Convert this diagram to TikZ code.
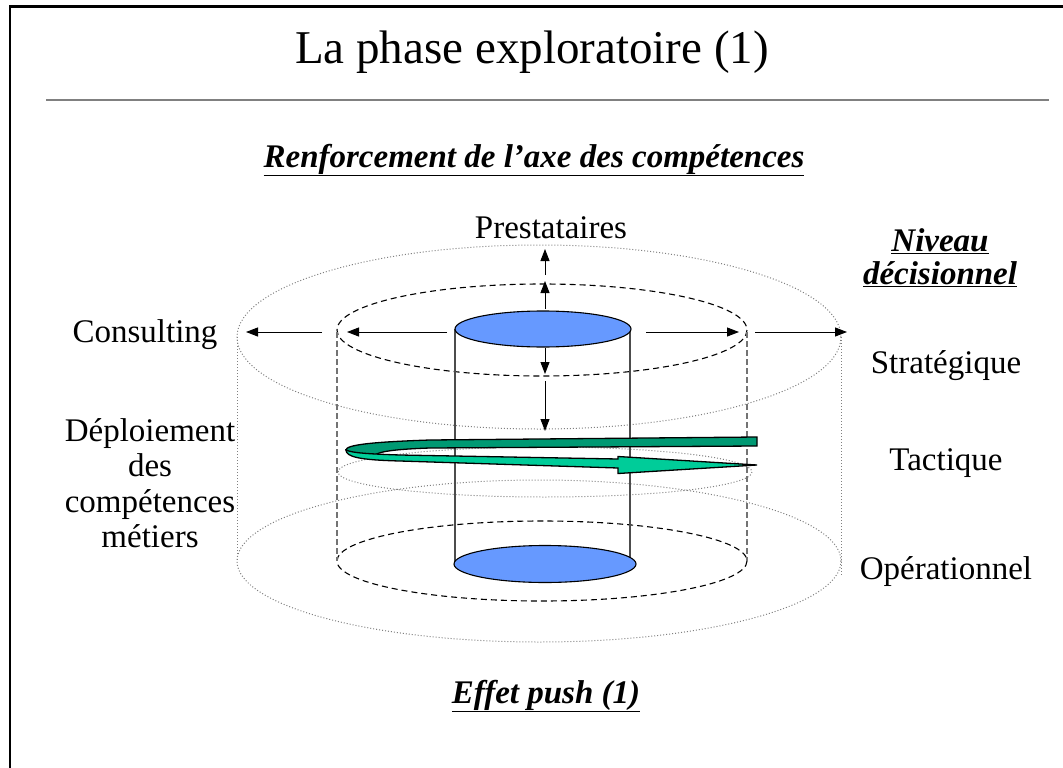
\documentclass[tikz,border=0pt]{standalone}
\usepackage{fontspec}
\setmainfont{Liberation Serif}
\usetikzlibrary{arrows.meta}
\definecolor{lightblue}{HTML}{6699FF}
\definecolor{darkgreen}{HTML}{009973}
\definecolor{lightgreen}{HTML}{00CC99}
\tikzset{
  body/.style={font=\fontsize{33}{37}\selectfont, align=center, inner sep=0pt},
  bodybi/.style={font=\fontsize{33}{37}\selectfont\bfseries\itshape, align=center, inner sep=0pt},
  dotline/.style={draw=gray, dotted, line width=1},
  dashline/.style={draw=black, dash pattern=on 6pt off 4pt, line width=1.1},
  dashgray/.style={draw=gray!90!black, dash pattern=on 6pt off 3pt, line width=1.1},
  arr/.style={-{Triangle[length=12pt,width=9pt]}, line width=1},
  disk/.style={fill=lightblue, draw=black, line width=1.1},
}
\begin{document}
\begin{tikzpicture}[x=1pt,y=-1pt]
\useasboundingbox (0,0) rectangle (1063,768);
% frame
\draw[line width=2.2] (10,768) -- (10,6.5) -- (1063,6.5);
\draw[gray, line width=2] (46,100) -- (1049,100);
% title
\node[font=\fontsize{47}{52}\selectfont, inner sep=0pt] (title) at (532,52) {La phase exploratoire (1)};
\node[bodybi] (sub) at (534,160) {\underline{Renforcement de l’axe des compétences}};
% outer cylinder
\draw[dotline] (539,337) ellipse [x radius=302, y radius=92];
\draw[dotline] (539,561) ellipse [x radius=302, y radius=81];
\draw[dotline] (237,337) -- (237,561);
\draw[dotline] (841,337) -- (841,575);
% middle dotted ellipse
\draw[dotline] (545,472) ellipse [x radius=207, y radius=25];
% dashed cylinder
\draw[dashline] (542,330) ellipse [x radius=205, y radius=46];
\draw[dashline] (542,561) ellipse [x radius=205, y radius=40];
\draw[dashgray] (337,332) -- (337,561);
\draw[dashgray] (747,332) -- (747,561);
% inner cylinder
\draw[gray!60!black, line width=1.2] (455,329) -- (455,564);
\draw[gray!60!black, line width=1.2] (630,329) -- (630,564);
\draw[disk] (545,564) ellipse [x radius=91, y radius=18.5];
\draw[disk] (543,329) ellipse [x radius=88, y radius=18];
% arrows
\coordinate (u1a) at (545,309); \coordinate (u1b) at (545,281);
\coordinate (u2a) at (545,275); \coordinate (u2b) at (545,249);
\coordinate (d1a) at (545,348); \coordinate (d1b) at (545,374);
\coordinate (d2a) at (545,381); \coordinate (d2b) at (545,431);
\coordinate (l1a) at (447,332); \coordinate (l1b) at (347,332);
\coordinate (l2a) at (322,332); \coordinate (l2b) at (246,332);
\coordinate (r1a) at (646,332); \coordinate (r1b) at (739,332);
\coordinate (r2a) at (755,332); \coordinate (r2b) at (847,332);
\foreach \a in {u1,u2,d1,d2,l1,l2,r1,r2} \draw[arr] (\a a) -- (\a b);
% green spiral arrow
\fill[darkgreen, draw=black, line width=1.3]
  (757,437) -- (430,440) .. controls (370,442) and (346,445) .. (346,450)
  .. controls (346,453) and (356,455) .. (375,455)
  .. controls (380,451) and (400,449) .. (430,448) -- (757,446) -- cycle;
\fill[lightgreen, draw=black, line width=1.3]
  (346,450) .. controls (346,457) and (360,460) .. (400,461)
  -- (618,468) -- (618,473.5) -- (757,465) -- (618,456.5) -- (618,459)
  -- (400,455) .. controls (370,454) and (352,453) .. (346,450) -- cycle;
% labels
\node[body] (prest) at (551,228) {Prestataires};
\node[bodybi] (niv) at (940,258) {\underline{Niveau}\\[-4pt]\underline{décisionnel}};
\node[body] (cons) at (145,335) {Consulting};
\node[body] (strat) at (946,366) {Stratégique};
\node[body] (tact) at (946,463) {Tactique};
\node[body] (oper) at (946,572) {Opérationnel};
\node[body, font=\fontsize{33}{35.5}\selectfont] (depl) at (150,483) {Déploiement\\des\\compétences\\métiers};
\node[bodybi] (effet) at (546,696) {\underline{Effet push (1)}};
\end{tikzpicture}
\end{document}
